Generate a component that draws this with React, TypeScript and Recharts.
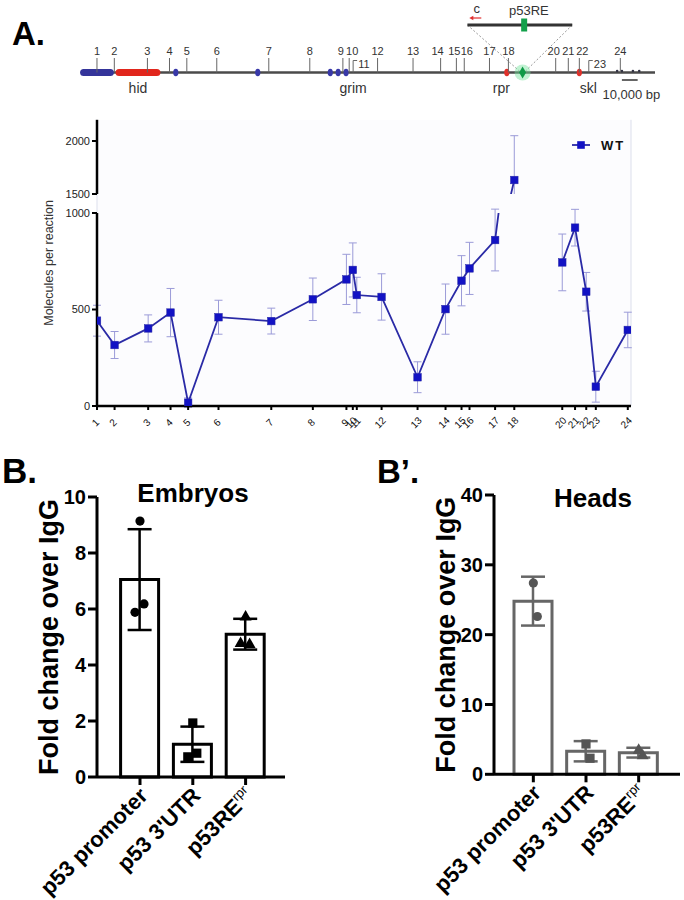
import React from 'react';
import {
  ComposedChart, Line, Bar, Scatter, XAxis, YAxis, CartesianGrid, ErrorBar,
  ReferenceLine, ReferenceDot, Legend,
} from 'recharts';

const SANS = '"Liberation Sans", Arial, Helvetica, sans-serif';

// ---------------- Panel A: ChIP-qPCR sites across the hid–rpr locus ----------------
const siteLabels = ['1', '2', '3', '4', '5', '6', '7', '8', '9', '10', '11', '12', '13', '14', '15', '16', '17', '18', '20', '21', '22', '23', '24'];
const sitePosKb = [0, 11, 32, 46, 57, 76, 109, 135, 156, 160, 162.5, 178, 200.5, 218, 228, 233, 249, 261, 291, 299, 306, 312, 332];
const wtMolecules = [442, 316, 402, 484, 17, 460, 440, 553, 656, 705, 575, 565, 149, 502, 649, 713, 860, 1632, 744, 924, 592, 100, 394];
const wtSem = [80, 70, 70, 125, 25, 88, 67, 110, 130, 140, 92, 120, 80, 130, 130, 135, 160, 418, 147, 95, 100, 80, 92];
const gapAfterSite = '18';

const lowerTicks = [0, 500, 1000];
const upperTicks = [1500, 2000];

// locus map features (kb)
const locusSpanKb = [-9.5, 354];
const leftGeneKb = [-8.5, 8.5];
const hidKb = [14, 38];
const blueExonKb = [50, 102, 148, 153, 158];
const redExonKb = [260, 306];
const tailExonKb = [330, 333, 340, 344];
const geneNames = ['hid', 'grim', 'rpr', 'skl'];
const geneNameKb = [26, 162.5, 256.5, 311.7];
const p53reKb = 270;
const insetKb = [235, 301.5];
const insetP53reKb = 271;
const insetPrimerKb = 240;
const scaleBarKb = [333, 343];

// ---------------- Panel B / B' ----------------
const chipTargets = ['p53 promoter', "p53 3'UTR", 'p53RE'];
const chipTargetSup = ['', '', 'rpr'];
const embryoMean = [7.05, 1.17, 5.1];
const embryoSD = [1.8, 0.63, 0.55];
const embryoReps = [[9.14, 6.18, 5.88], [1.93, 0.85, 0.72], [5.75, 4.77, 4.8]];
const embryoTicks = [0, 2, 4, 6, 8, 10];
const headMean = [24.8, 3.3, 3.1];
const headSD = [3.5, 1.45, 0.7];
const headReps = [[27.4, 22.6], [4.35, 2.3], [3.6, 2.8]];
const headTicks = [0, 10, 20, 30, 40];

// ---------------- layout / style constants ----------------
const ROW = { track: 72.5, geneName: 92.5, scaleBar: 80, scaleText: 99, inset: 25, insetText: 14.5, primer: 18 };
const droppedLabelSites = ['11', '23'];
const labelNudge: Record<string, number> = { '9': -2, '10': 3, '14': -3, '15': -2, '16': 2.5, '20': -2, '21': 0, '22': 3 };
const repJitter = [0, 4, -5];
const LINE_BLUE = '#2a2aa6';
const DOT_BLUE = '#1212c4';
const ERR_BLUE = '#9b9bd8';
const GRID = '#dcdfec';

// ---------------- shapes ----------------
const SiteMark = (p: any) => {
  const { cx, cy, payload } = p;
  const lab = payload.label;
  if (droppedLabelSites.includes(lab)) {
    return (
      <g>
        <line x1={cx} x2={cx} y1={cy} y2={cy - 12} stroke="#666" strokeWidth={1} />
        <line x1={cx} x2={cx + 4} y1={cy - 12} y2={cy - 12} stroke="#666" strokeWidth={1} />
        <text x={cx + 5} y={cy - 5} fontSize={11} fill="#333" fontFamily={SANS}>{lab}</text>
      </g>
    );
  }
  return (
    <g>
      <line x1={cx} x2={cx} y1={cy} y2={cy - 14.5} stroke="#666" strokeWidth={1} />
      <text x={cx + (labelNudge[lab] || 0)} y={cy - 17.5} textAnchor="middle" fontSize={11} fill="#333" fontFamily={SANS}>{lab}</text>
    </g>
  );
};

const GeneName = (p: any) => (
  <text x={p.cx} y={p.cy} textAnchor="middle" fontSize={14} fill="#333" fontFamily={SANS}>{p.payload.text}</text>
);
const NoteText = (p: any) => (
  <text x={p.cx} y={p.cy} textAnchor="middle" fontSize={13} fill="#333" fontFamily={SANS}>{p.payload.text}</text>
);

const Exon = (color: string) => (p: any) => (
  <ellipse cx={p.cx} cy={p.cy} rx={2.6} ry={3.8} fill={color} />
);
const TailExon = (p: any) => <circle cx={p.cx} cy={p.cy - 1.5} r={1.3} fill="#334" />;
const GreenDiamond = (p: any) => (
  <g>
    <circle cx={p.cx} cy={p.cy} r={8} fill="#74e29c" opacity={0.45} />
    <polygon points={`${p.cx},${p.cy - 6} ${p.cx + 3.5},${p.cy} ${p.cx},${p.cy + 6} ${p.cx - 3.5},${p.cy}`} fill="#0e9a46" />
  </g>
);
const InsetRE = (p: any) => <rect x={p.cx - 3} y={p.cy - 6.5} width={6} height={13} fill="#12a04a" />;
const PrimerArrow = (p: any) => (
  <g>
    <line x1={p.cx - 4} x2={p.cx + 6} y1={p.cy} y2={p.cy} stroke="#e03030" strokeWidth={1.2} />
    <polygon points={`${p.cx - 6},${p.cy} ${p.cx - 2},${p.cy - 2.2} ${p.cx - 2},${p.cy + 2.2}`} fill="#e03030" />
  </g>
);

const SquareDot = (p: any) => {
  const { cx, cy } = p;
  if (cx == null || cy == null || Number.isNaN(cy)) return <g key={p.key} />;
  return <rect key={p.key} x={cx - 3.8} y={cy - 3.8} width={7.6} height={7.6} fill={DOT_BLUE} stroke={LINE_BLUE} strokeWidth={0.5} />;
};

const SiteTick = (p: any) => {
  const { x, y, payload } = p;
  const idx = sitePosKb.indexOf(payload.value);
  const label = idx >= 0 ? siteLabels[idx] : '';
  return (
    <text transform={`translate(${x + 1},${y + 13}) rotate(-45)`} textAnchor="middle" fontSize={10} fill="#111" fontFamily={SANS}>{label}</text>
  );
};

const WtLegend = () => (
  <svg width={80} height={16}>
    <line x1={6} x2={24} y1={8} y2={8} stroke={LINE_BLUE} strokeWidth={1.8} />
    <rect x={11.2} y={4.2} width={7.6} height={7.6} fill={DOT_BLUE} />
    <text x={35} y={12.5} fontSize={13} fontWeight="bold" letterSpacing={2} fontFamily={SANS} fill="#111">WT</text>
  </svg>
);

const TargetTick = (p: any) => {
  const { x, y, payload } = p;
  const i = chipTargets.indexOf(payload.value);
  const sup = i >= 0 ? chipTargetSup[i] : '';
  return (
    <text transform={`translate(${x + 9},${y + 10}) rotate(-45)`} textAnchor="end" fontSize={22} fontWeight="bold" fill="#000" fontFamily={SANS}>
      <tspan>{payload.value}</tspan>
      {sup ? <tspan dy={-9} fontSize={13} fontWeight="normal">{sup}</tspan> : null}
    </text>
  );
};

const RepMark = (key: string, j: number, color: string) => (p: any) => {
  const { cx, cy, payload } = p;
  if (payload == null || payload[key] == null || cx == null || cy == null || Number.isNaN(cy)) return <g />;
  const kind = chipTargets.indexOf(payload.name);
  const x = cx + repJitter[j];
  if (kind === 0) return <circle cx={x} cy={cy} r={4.6} fill={color} />;
  if (kind === 1) return <rect x={x - 4.6} y={cy - 4.6} width={9.2} height={9.2} fill={color} />;
  return <polygon points={`${x},${cy - 6} ${x + 6},${cy + 4.5} ${x - 6},${cy + 4.5}`} fill={color} />;
};

// ---------------- charts ----------------
function LocusMap() {
  const sites = siteLabels.map((label, i) => ({ kb: sitePosKb[i], row: ROW.track, label }));
  const names = geneNames.map((text, i) => ({ kb: geneNameKb[i], row: ROW.geneName, text }));
  const notes = [
    { kb: (scaleBarKb[0] + scaleBarKb[1]) / 2 + 1, row: ROW.scaleText, text: '10,000 bp' },
    { kb: insetP53reKb + 3, row: ROW.insetText, text: 'p53RE' },
    { kb: insetPrimerKb + 1, row: ROW.insetText - 1.5, text: 'c' },
  ];
  const seg = (a: number, b: number, y: number) => [{ x: a, y }, { x: b, y }];
  return (
    <ComposedChart width={684} height={110} margin={{ top: 0, right: 29, bottom: 0, left: 82 }}>
      <XAxis type="number" dataKey="kb" domain={locusSpanKb} hide />
      <YAxis type="number" domain={[0, 110]} reversed hide />
      <ReferenceLine ifOverflow="visible" segment={[{ x: insetKb[0], y: ROW.inset }, { x: p53reKb - 1, y: ROW.track }]} stroke="#999" strokeDasharray="2 2" strokeWidth={1} />
      <ReferenceLine ifOverflow="visible" segment={[{ x: insetKb[1], y: ROW.inset }, { x: p53reKb + 1, y: ROW.track }]} stroke="#999" strokeDasharray="2 2" strokeWidth={1} />
      <ReferenceLine ifOverflow="visible" segment={seg(locusSpanKb[0], locusSpanKb[1], ROW.track)} stroke="#4a4a4a" strokeWidth={2.5} />
      <ReferenceLine ifOverflow="visible" segment={seg(leftGeneKb[0], leftGeneKb[1], ROW.track)} stroke="#34349a" strokeWidth={7} strokeLinecap="round" />
      <ReferenceLine ifOverflow="visible" segment={seg(hidKb[0], hidKb[1], ROW.track)} stroke="#e1261c" strokeWidth={7} strokeLinecap="round" />
      <ReferenceLine ifOverflow="visible" segment={seg(insetKb[0], insetKb[1], ROW.inset)} stroke="#333" strokeWidth={3} />
      <ReferenceLine ifOverflow="visible" segment={seg(scaleBarKb[0], scaleBarKb[1], ROW.scaleBar)} stroke="#333" strokeWidth={1.5} />
      {blueExonKb.map((k) => <ReferenceDot key={'b' + k} ifOverflow="visible" x={k} y={ROW.track} r={3} shape={Exon('#3838a8')} />)}
      {redExonKb.map((k) => <ReferenceDot key={'r' + k} ifOverflow="visible" x={k} y={ROW.track} r={3} shape={Exon('#e0302a')} />)}
      {tailExonKb.map((k) => <ReferenceDot key={'t' + k} ifOverflow="visible" x={k} y={ROW.track} r={2} shape={TailExon} />)}
      <ReferenceDot ifOverflow="visible" x={p53reKb} y={ROW.track} r={4} shape={GreenDiamond} />
      <ReferenceDot ifOverflow="visible" x={insetP53reKb} y={ROW.inset} r={4} shape={InsetRE} />
      <ReferenceDot ifOverflow="visible" x={insetPrimerKb} y={ROW.primer} r={4} shape={PrimerArrow} />
      <Scatter data={sites} dataKey="row" shape={SiteMark} isAnimationActive={false} />
      <Scatter data={names} dataKey="row" shape={GeneName} isAnimationActive={false} />
      <Scatter data={notes} dataKey="row" shape={NoteText} isAnimationActive={false} />
    </ComposedChart>
  );
}

function buildLineData() {
  const rows: any[] = [];
  siteLabels.forEach((s, i) => {
    rows.push({ kb: sitePosKb[i], wt: wtMolecules[i], err: wtSem[i] });
    if (s === gapAfterSite && i + 1 < siteLabels.length) {
      rows.push({ kb: (sitePosKb[i] + sitePosKb[i + 1]) / 2, wt: null, err: null });
    }
  });
  return rows;
}

const yTickStyle = { fontSize: 11, fill: '#222', fontFamily: SANS };
const axisBlack = { stroke: '#000', strokeWidth: 2.5 };

function WtLine() {
  return (
    <Line dataKey="wt" name="WT" type="linear" stroke={LINE_BLUE} strokeWidth={1.8} dot={SquareDot} activeDot={false} isAnimationActive={false}>
      <ErrorBar dataKey="err" width={4} stroke={ERR_BLUE} strokeWidth={1} direction="y" />
    </Line>
  );
}

function PanelA() {
  const data = buildLineData();
  return (
    <>
      {/* background grid + axis title spanning both segments of the broken axis */}
      <div style={{ position: 'absolute', left: 0, top: 110 }}>
        <ComposedChart width={684} height={340} data={data} margin={{ top: 9.8, right: 53, bottom: 44, left: 0 }}>
          <CartesianGrid horizontal={false} stroke={GRID} fill="#fcfcfe" />
          <XAxis type="number" dataKey="kb" domain={[0, 334]} ticks={sitePosKb} interval={0} tick={false} tickLine={false} axisLine={false} height={0} />
          <YAxis type="number" domain={[0, 1]} width={97} tick={false} tickLine={false} axisLine={false}
            label={{ value: 'Molecules per reaction', angle: -90, position: 'center', fontSize: 12.5, fill: '#333', fontFamily: SANS }} />
        </ComposedChart>
      </div>
      {/* upper segment: axis + legend */}
      <div style={{ position: 'absolute', left: 0, top: 110 }}>
        <ComposedChart width={684} height={100} data={data} margin={{ top: 9.8, right: 53, bottom: 16, left: 0 }}>
          <XAxis type="number" dataKey="kb" domain={[0, 334]} hide />
          <YAxis type="number" domain={[1500, 2200]} ticks={upperTicks} allowDataOverflow width={97} interval={0}
            tick={yTickStyle} tickLine={{ stroke: '#000', strokeWidth: 2 }} tickSize={5} axisLine={axisBlack} />
          <Legend layout="vertical" align="center" verticalAlign="middle" content={WtLegend}
            wrapperStyle={{ left: 566, top: 27, width: 80, height: 16 }} />
        </ComposedChart>
      </div>
      {/* upper segment: series, cut exactly at the axis break */}
      <div style={{ position: 'absolute', left: 0, top: 110 }}>
        <ComposedChart width={684} height={84} data={data} margin={{ top: 9.8, right: 53, bottom: 0, left: 97 }}>
          <XAxis type="number" dataKey="kb" domain={[0, 334]} hide />
          <YAxis type="number" domain={[1500, 2200]} allowDataOverflow hide />
          {WtLine()}
        </ComposedChart>
      </div>
      {/* lower segment */}
      <div style={{ position: 'absolute', left: 0, top: 200 }}>
        <ComposedChart width={684} height={250} data={data} margin={{ top: 13, right: 53, bottom: 14, left: 0 }}>
          <XAxis type="number" dataKey="kb" domain={[0, 334]} ticks={sitePosKb} interval={0} allowDataOverflow height={30}
            tick={<SiteTick />} tickLine={{ stroke: '#000', strokeWidth: 2 }} tickSize={4} axisLine={axisBlack} />
          <YAxis type="number" domain={[0, 1000]} ticks={lowerTicks} allowDataOverflow width={97} interval={0}
            tick={yTickStyle} tickLine={{ stroke: '#000', strokeWidth: 2 }} tickSize={5} axisLine={axisBlack} />
          {WtLine()}
        </ComposedChart>
      </div>
    </>
  );
}

function ChipPanel(props: any) {
  const { means, sds, reps, yMax, yTicks, barStroke, markColor, width, margin, padding } = props;
  const data = chipTargets.map((name, i) => ({
    name, mean: means[i], sd: sds[i],
    r1: reps[i][0] ?? null, r2: reps[i][1] ?? null, r3: reps[i][2] ?? null,
  }));
  return (
    <ComposedChart width={width} height={420} data={data} margin={margin}>
      <XAxis dataKey="name" type="category" padding={padding} interval={0} height={120}
        tick={<TargetTick />} tickLine={{ stroke: '#000', strokeWidth: 3 }} tickSize={8} axisLine={{ stroke: '#000', strokeWidth: 3 }} />
      <YAxis type="number" domain={[0, yMax]} ticks={yTicks} interval={0} width={97}
        tick={{ fontSize: 20, fontWeight: 'bold', fill: '#000', fontFamily: SANS }}
        tickLine={{ stroke: '#000', strokeWidth: 3 }} tickSize={9} axisLine={{ stroke: '#000', strokeWidth: 3 }}
        label={{ value: 'Fold change over IgG', angle: -90, position: 'center', fontSize: 27, fontWeight: 'bold', fill: '#000', fontFamily: SANS }} />
      <Bar dataKey="mean" barSize={38} fill="#fff" stroke={barStroke} strokeWidth={3} isAnimationActive={false}>
        <ErrorBar dataKey="sd" width={12} strokeWidth={2.5} stroke={barStroke} direction="y" />
      </Bar>
      {['r1', 'r2', 'r3'].map((k, j) => (
        <Scatter key={k} dataKey={k} shape={RepMark(k, j, markColor)} isAnimationActive={false} />
      ))}
    </ComposedChart>
  );
}

const heading = (text: string, left: number, top: number, size: number, extra: any = {}) => (
  <div style={{ position: 'absolute', left, top, fontSize: size, fontWeight: 'bold', lineHeight: 1, fontFamily: SANS, color: '#000', whiteSpace: 'nowrap', ...extra }}>{text}</div>
);

export default function App() {
  return (
    <div style={{ position: 'absolute', left: 0, top: 0, width: 684, height: 900, background: '#fff', fontFamily: SANS, overflow: 'hidden' }}>
      <div style={{ position: 'absolute', left: 0, top: 0 }}>
        <LocusMap />
      </div>
      {heading('A.', 12, 17, 33)}
      <PanelA />
      {heading('B.', 2, 453, 35)}
      {heading('B\u2019.', 377, 455, 33)}
      {heading('Embryos', 93, 480, 26, { width: 200, textAlign: 'center' })}
      {heading('Heads', 493, 485, 26, { width: 200, textAlign: 'center' })}
      <div style={{ position: 'absolute', left: 0, top: 480 }}>
        <ChipPanel means={embryoMean} sds={embryoSD} reps={embryoReps} yMax={10} yTicks={embryoTicks}
          barStroke="#000" markColor="#000" width={300}
          margin={{ top: 17, right: 15, bottom: 3, left: 0 }} padding={{ left: 16.6, right: 13 }} />
      </div>
      <div style={{ position: 'absolute', left: 397, top: 480 }}>
        <ChipPanel means={headMean} sds={headSD} reps={headReps} yMax={40} yTicks={headTicks}
          barStroke="#666" markColor="#555" width={287}
          margin={{ top: 15, right: 4, bottom: 5.7, left: 0 }} padding={{ left: 13, right: 15 }} />
      </div>
    </div>
  );
}
